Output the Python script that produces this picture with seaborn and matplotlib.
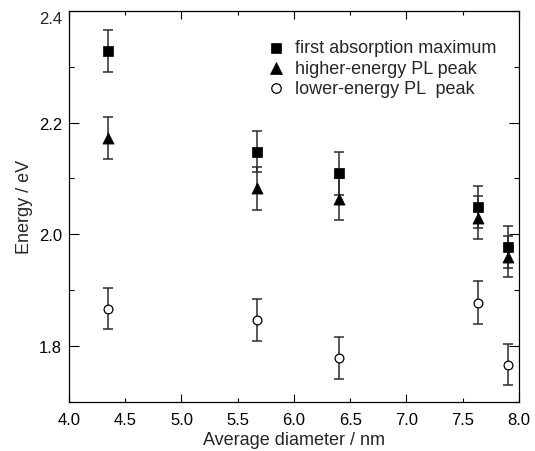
import matplotlib
matplotlib.use("Agg")
import matplotlib.pyplot as plt
import matplotlib.ticker as mticker
import numpy as np
import pandas as pd
import seaborn as sns

# ---- data ----
diameters = [4.35, 5.67, 6.40, 7.64, 7.90]
absorption_max = [2.328, 2.148, 2.109, 2.049, 1.977]
pl_high = [2.172, 2.082, 2.063, 2.030, 1.960]
pl_low = [1.867, 1.847, 1.779, 1.878, 1.767]
err_abs = [0.038, 0.037, 0.038, 0.038, 0.037]
err_high = [0.038, 0.038, 0.038, 0.038, 0.037]
err_low = [0.037, 0.038, 0.038, 0.038, 0.037]
series_labels = ["first absorption maximum", "higher-energy PL peak", "lower-energy PL  peak"]
x_ticks = [4.0, 4.5, 5.0, 5.5, 6.0, 6.5, 7.0, 7.5, 8.0]
y_ticks = [1.8, 2.0, 2.2, 2.4]

sns.set_style("ticks")
plt.rcParams["font.family"] = ["Liberation Sans", "DejaVu Sans"]

df = pd.DataFrame({
    "diameter": diameters * 3,
    "energy": absorption_max + pl_high + pl_low,
    "err": err_abs + err_high + err_low,
    "series": [series_labels[0]] * 5 + [series_labels[1]] * 5 + [series_labels[2]] * 5,
})

fig = plt.figure(figsize=(5.35, 4.52), dpi=100)
ax = fig.add_axes([0.129, 0.1084, 0.841, 0.8657])

styles = {
    series_labels[0]: dict(marker="s", s=46, color="black", edgecolor="black", linewidth=0.5),
    series_labels[1]: dict(marker="^", s=64, color="black", edgecolor="black", linewidth=0.5),
    series_labels[2]: dict(marker="o", s=40, color="white", edgecolor="black", linewidth=0.9),
}

for lab in series_labels:
    sub = df[df["series"] == lab]
    ax.errorbar(sub["diameter"], sub["energy"], yerr=sub["err"], fmt="none",
                ecolor="#2b2b2b", elinewidth=1.1, capsize=3.9, capthick=1.1, zorder=2)
for lab in series_labels:
    sub = df[df["series"] == lab]
    sns.scatterplot(data=sub, x="diameter", y="energy", ax=ax, label=lab, zorder=3,
                    **styles[lab])

ax.set_xlim(4.0, 8.0)
ax.set_ylim(1.70, 2.40)

# x: labels every 0.5, long ticks at integers, short at half-integers
ax.xaxis.set_major_locator(mticker.FixedLocator([4.0, 5.0, 6.0, 7.0, 8.0]))
ax.xaxis.set_minor_locator(mticker.FixedLocator([4.5, 5.5, 6.5, 7.5]))
ax.xaxis.set_major_formatter(mticker.FormatStrFormatter("%.1f"))
ax.xaxis.set_minor_formatter(mticker.FormatStrFormatter("%.1f"))

# y: labels every 0.2, minor at 0.1
ax.yaxis.set_major_locator(mticker.FixedLocator(y_ticks))
ax.yaxis.set_minor_locator(mticker.FixedLocator([1.7, 1.9, 2.1, 2.3]))
ax.yaxis.set_major_formatter(mticker.FuncFormatter(lambda v, p: "" if abs(v - 2.4) < 1e-6 else f"{v:.1f}"))

ax.tick_params(axis="both", which="both", direction="in", top=True, right=True,
               colors="black", labelsize=12, width=0.8)
ax.tick_params(axis="x", which="major", length=5.8, pad=7)
ax.tick_params(axis="x", which="minor", length=2.9, pad=7)
ax.tick_params(axis="y", which="major", length=7.5, pad=5)
ax.tick_params(axis="y", which="minor", length=3.6, pad=5)

# the top "2.4" label sits a little below the top spine in the reference
ax.annotate("2.4", xy=(0, 2.4), xycoords=("axes fraction", "data"),
            xytext=(-5, -5.5), textcoords="offset points", ha="right", va="center",
            fontsize=12)

for sp in ax.spines.values():
    sp.set_visible(True)
    sp.set_color("black")
    sp.set_linewidth(0.9)

ax.set_xlabel("Average diameter / nm", fontsize=13, labelpad=3)
ax.set_ylabel("Energy / eV", fontsize=13, labelpad=4)

ax.legend(loc="upper left", bbox_to_anchor=(0.444, 0.927), frameon=False,
          fontsize=13, borderpad=0, borderaxespad=0, handlelength=0.8,
          handletextpad=0.65, labelspacing=0.19, markerscale=1.08)

fig.savefig("out.png", dpi=100)
